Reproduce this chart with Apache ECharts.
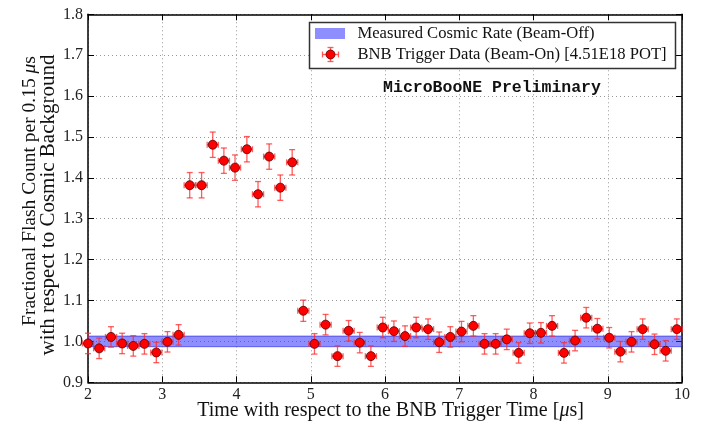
<!DOCTYPE html>
<html><head><meta charset="utf-8">
<script src="https://cdn.jsdelivr.net/npm/echarts@6/dist/echarts.min.js"></script>
<style>html,body{margin:0;padding:0;background:#fff}#c{width:702px;height:426px}</style>
</head><body><div id="c"></div>
<script>
const xValues = [2.00,2.15,2.31,2.46,2.61,2.76,2.92,3.07,3.22,3.37,3.53,3.68,3.83,3.98,4.14,4.29,4.44,4.59,4.75,4.90,5.05,5.20,5.36,5.51,5.66,5.81,5.97,6.12,6.27,6.42,6.58,6.73,6.88,7.03,7.19,7.34,7.49,7.64,7.80,7.95,8.10,8.25,8.41,8.56,8.71,8.86,9.02,9.17,9.32,9.47,9.63,9.78,9.93];
const yValues = [0.995,0.983,1.011,0.995,0.989,0.994,0.973,0.999,1.016,1.382,1.382,1.481,1.442,1.425,1.470,1.360,1.452,1.376,1.438,1.075,0.994,1.041,0.964,1.026,0.997,0.964,1.034,1.025,1.013,1.034,1.030,0.998,1.011,1.024,1.038,0.994,0.994,1.005,0.972,1.020,1.021,1.038,0.972,1.002,1.058,1.031,1.009,0.975,0.999,1.030,0.993,0.977,1.030];
const yErrors = [0.025,0.025,0.025,0.025,0.025,0.025,0.025,0.025,0.025,0.031,0.031,0.031,0.031,0.031,0.031,0.031,0.031,0.031,0.031,0.026,0.025,0.025,0.025,0.025,0.025,0.025,0.025,0.025,0.025,0.025,0.025,0.025,0.025,0.025,0.025,0.025,0.025,0.025,0.025,0.025,0.025,0.025,0.025,0.025,0.025,0.025,0.025,0.025,0.025,0.025,0.025,0.025,0.025];
const xHalfWidth = 0.075;
const bandLow = 0.987, bandHigh = 1.013;
const xTicks = [2,3,4,5,6,7,8,9,10];
const yTicks = [0.9,1.0,1.1,1.2,1.3,1.4,1.5,1.6,1.7,1.8];
const legendNames = ['Measured Cosmic Rate (Beam-Off)', 'BNB Trigger Data (Beam-On) [4.51E18 POT]'];
const watermark = 'MicroBooNE Preliminary';

const serif = "'Liberation Serif','DejaVu Serif',serif";
const chart = echarts.init(document.getElementById('c'), null, {renderer:'canvas'});
const pts = xValues.map((x,i)=>[x, yValues[i], yErrors[i]]);

const axisCommon = {
  type:'value', axisLine:{show:true,onZero:false,lineStyle:{color:'#000',width:1.5}},
  axisTick:{show:true,inside:true,length:6,lineStyle:{color:'#000',width:1}},
  minorTick:{show:false}
};

chart.setOption({
  animation:false,
  grid:{left:88,top:14.3,right:20,bottom:43.7},
  xAxis:[
    Object.assign({}, axisCommon, {min:2,max:10,interval:1,position:'bottom',
      axisLabel:{color:'#222',fontFamily:serif,fontSize:16,margin:4,
        formatter:v=>xTicks.includes(v)?String(v):''},
      splitLine:{show:true,lineStyle:{color:'#999',type:[1,3],width:1}}}),
    Object.assign({}, axisCommon, {min:2,max:10,interval:1,position:'top',axisLabel:{show:false},splitLine:{show:false}})
  ],
  yAxis:[
    Object.assign({}, axisCommon, {min:0.9,max:1.8,interval:0.1,position:'left',
      axisLabel:{color:'#222',fontFamily:serif,fontSize:16,margin:5,
        formatter:v=>v.toFixed(1)},
      splitLine:{show:true,lineStyle:{color:'#999',type:[1,3],width:1}}}),
    Object.assign({}, axisCommon, {min:0.9,max:1.8,interval:0.1,position:'right',axisLabel:{show:false},splitLine:{show:false}})
  ],
  series:[
    {
      type:'custom', name:legendNames[0], z:2,
      data:[[2,10,bandLow,bandHigh]],
      renderItem:(params,api)=>{
        const p1=api.coord([api.value(0),api.value(3)]);
        const p2=api.coord([api.value(1),api.value(2)]);
        return {type:'group',children:[
          {type:'rect',shape:{x:p1[0],y:p1[1],width:p2[0]-p1[0],height:p2[1]-p1[1]},style:{fill:'rgba(50,50,255,0.55)'}},
          {type:'line',shape:{x1:p1[0],y1:p1[1],x2:p2[0],y2:p1[1]},style:{stroke:'rgba(30,30,220,0.6)',lineWidth:1}},
          {type:'line',shape:{x1:p1[0],y1:p2[1],x2:p2[0],y2:p2[1]},style:{stroke:'rgba(30,30,220,0.6)',lineWidth:1}}
        ]};
      }
    },
    {
      type:'custom', name:'err', z:3,
      data:pts,
      renderItem:(params,api)=>{
        const x=api.value(0), y=api.value(1), e=api.value(2);
        const top=api.coord([x,y+e]), bot=api.coord([x,y-e]);
        const l=api.coord([x-xHalfWidth,y]), r=api.coord([x+xHalfWidth,y]);
        const st={stroke:'rgba(255,40,40,0.75)',lineWidth:1.3};
        const c=3;
        return {type:'group',children:[
          {type:'line',shape:{x1:top[0],y1:top[1],x2:bot[0],y2:bot[1]},style:st},
          {type:'line',shape:{x1:top[0]-c,y1:top[1],x2:top[0]+c,y2:top[1]},style:st},
          {type:'line',shape:{x1:bot[0]-c,y1:bot[1],x2:bot[0]+c,y2:bot[1]},style:st},
          {type:'line',shape:{x1:l[0],y1:l[1],x2:r[0],y2:r[1]},style:st},
          {type:'line',shape:{x1:l[0],y1:l[1]-c,x2:l[0],y2:l[1]+c},style:st},
          {type:'line',shape:{x1:r[0],y1:r[1]-c,x2:r[0],y2:r[1]+c},style:st}
        ]};
      }
    },
    {
      type:'scatter', name:legendNames[1], z:4, symbol:'circle', symbolSize:9,
      data:pts.map(p=>[p[0],p[1]]),
      itemStyle:{color:'#f00',borderColor:'#500',borderWidth:0.8,opacity:1}
    }
  ],
  graphic:[
    {type:'rect',shape:{x:309.5,y:22.5,width:366,height:46},style:{fill:'#fff',stroke:'#333',lineWidth:1.5},z:100},
    {type:'rect',shape:{x:315,y:28,width:30,height:11},style:{fill:'rgba(50,50,255,0.55)'},z:101},
    {type:'line',shape:{x1:322.5,y1:54.5,x2:338.5,y2:54.5},style:{stroke:'rgba(255,40,40,0.75)',lineWidth:1.3},z:101},
    {type:'line',shape:{x1:330.5,y1:47.5,x2:330.5,y2:61.5},style:{stroke:'rgba(255,40,40,0.75)',lineWidth:1.3},z:101},
    {type:'line',shape:{x1:327.5,y1:47.5,x2:333.5,y2:47.5},style:{stroke:'rgba(255,40,40,0.75)',lineWidth:1.3},z:101},
    {type:'line',shape:{x1:327.5,y1:61.5,x2:333.5,y2:61.5},style:{stroke:'rgba(255,40,40,0.75)',lineWidth:1.3},z:101},
    {type:'line',shape:{x1:322.5,y1:51.5,x2:322.5,y2:57.5},style:{stroke:'rgba(255,40,40,0.75)',lineWidth:1.3},z:101},
    {type:'line',shape:{x1:338.5,y1:51.5,x2:338.5,y2:57.5},style:{stroke:'rgba(255,40,40,0.75)',lineWidth:1.3},z:101},
    {type:'circle',shape:{cx:330.5,cy:54.5,r:4.5},style:{fill:'#f00',stroke:'#500',lineWidth:0.8},z:102},
    {type:'text',x:357.5,y:33.5,style:{text:legendNames[0],font:"16.6px "+serif,fill:'#111',textVerticalAlign:'middle'},z:101},
    {type:'text',x:357.5,y:54.5,style:{text:legendNames[1],font:"16.6px "+serif,fill:'#111',textVerticalAlign:'middle'},z:101},
    {type:'text',x:492,y:88,style:{text:watermark,font:"bold 16.5px 'Liberation Mono','DejaVu Sans Mono',monospace",fill:'#111',textAlign:'center',textVerticalAlign:'middle'},z:101},
    {type:'text',x:390.5,y:411,style:{text:'Time with respect to the BNB Trigger Time [{i|μ}s]',rich:{i:{fontStyle:'italic',fontFamily:serif,fontSize:20}},font:"20px "+serif,fill:'#111',textAlign:'center',textVerticalAlign:'middle'},z:101},
    {type:'text',x:30,y:191,rotation:Math.PI/2,style:{text:'Fractional Flash Count per 0.15 {i|μ}s',rich:{i:{fontStyle:'italic',fontFamily:serif,fontSize:19.5}},font:"19.5px "+serif,fill:'#111',textAlign:'center',textVerticalAlign:'middle'},z:101},
    {type:'text',x:48.5,y:205,rotation:Math.PI/2,style:{text:'with respect to Cosmic Background',font:"21px "+serif,fill:'#111',textAlign:'center',textVerticalAlign:'middle'},z:101}
  ]
});
</script></body></html>
